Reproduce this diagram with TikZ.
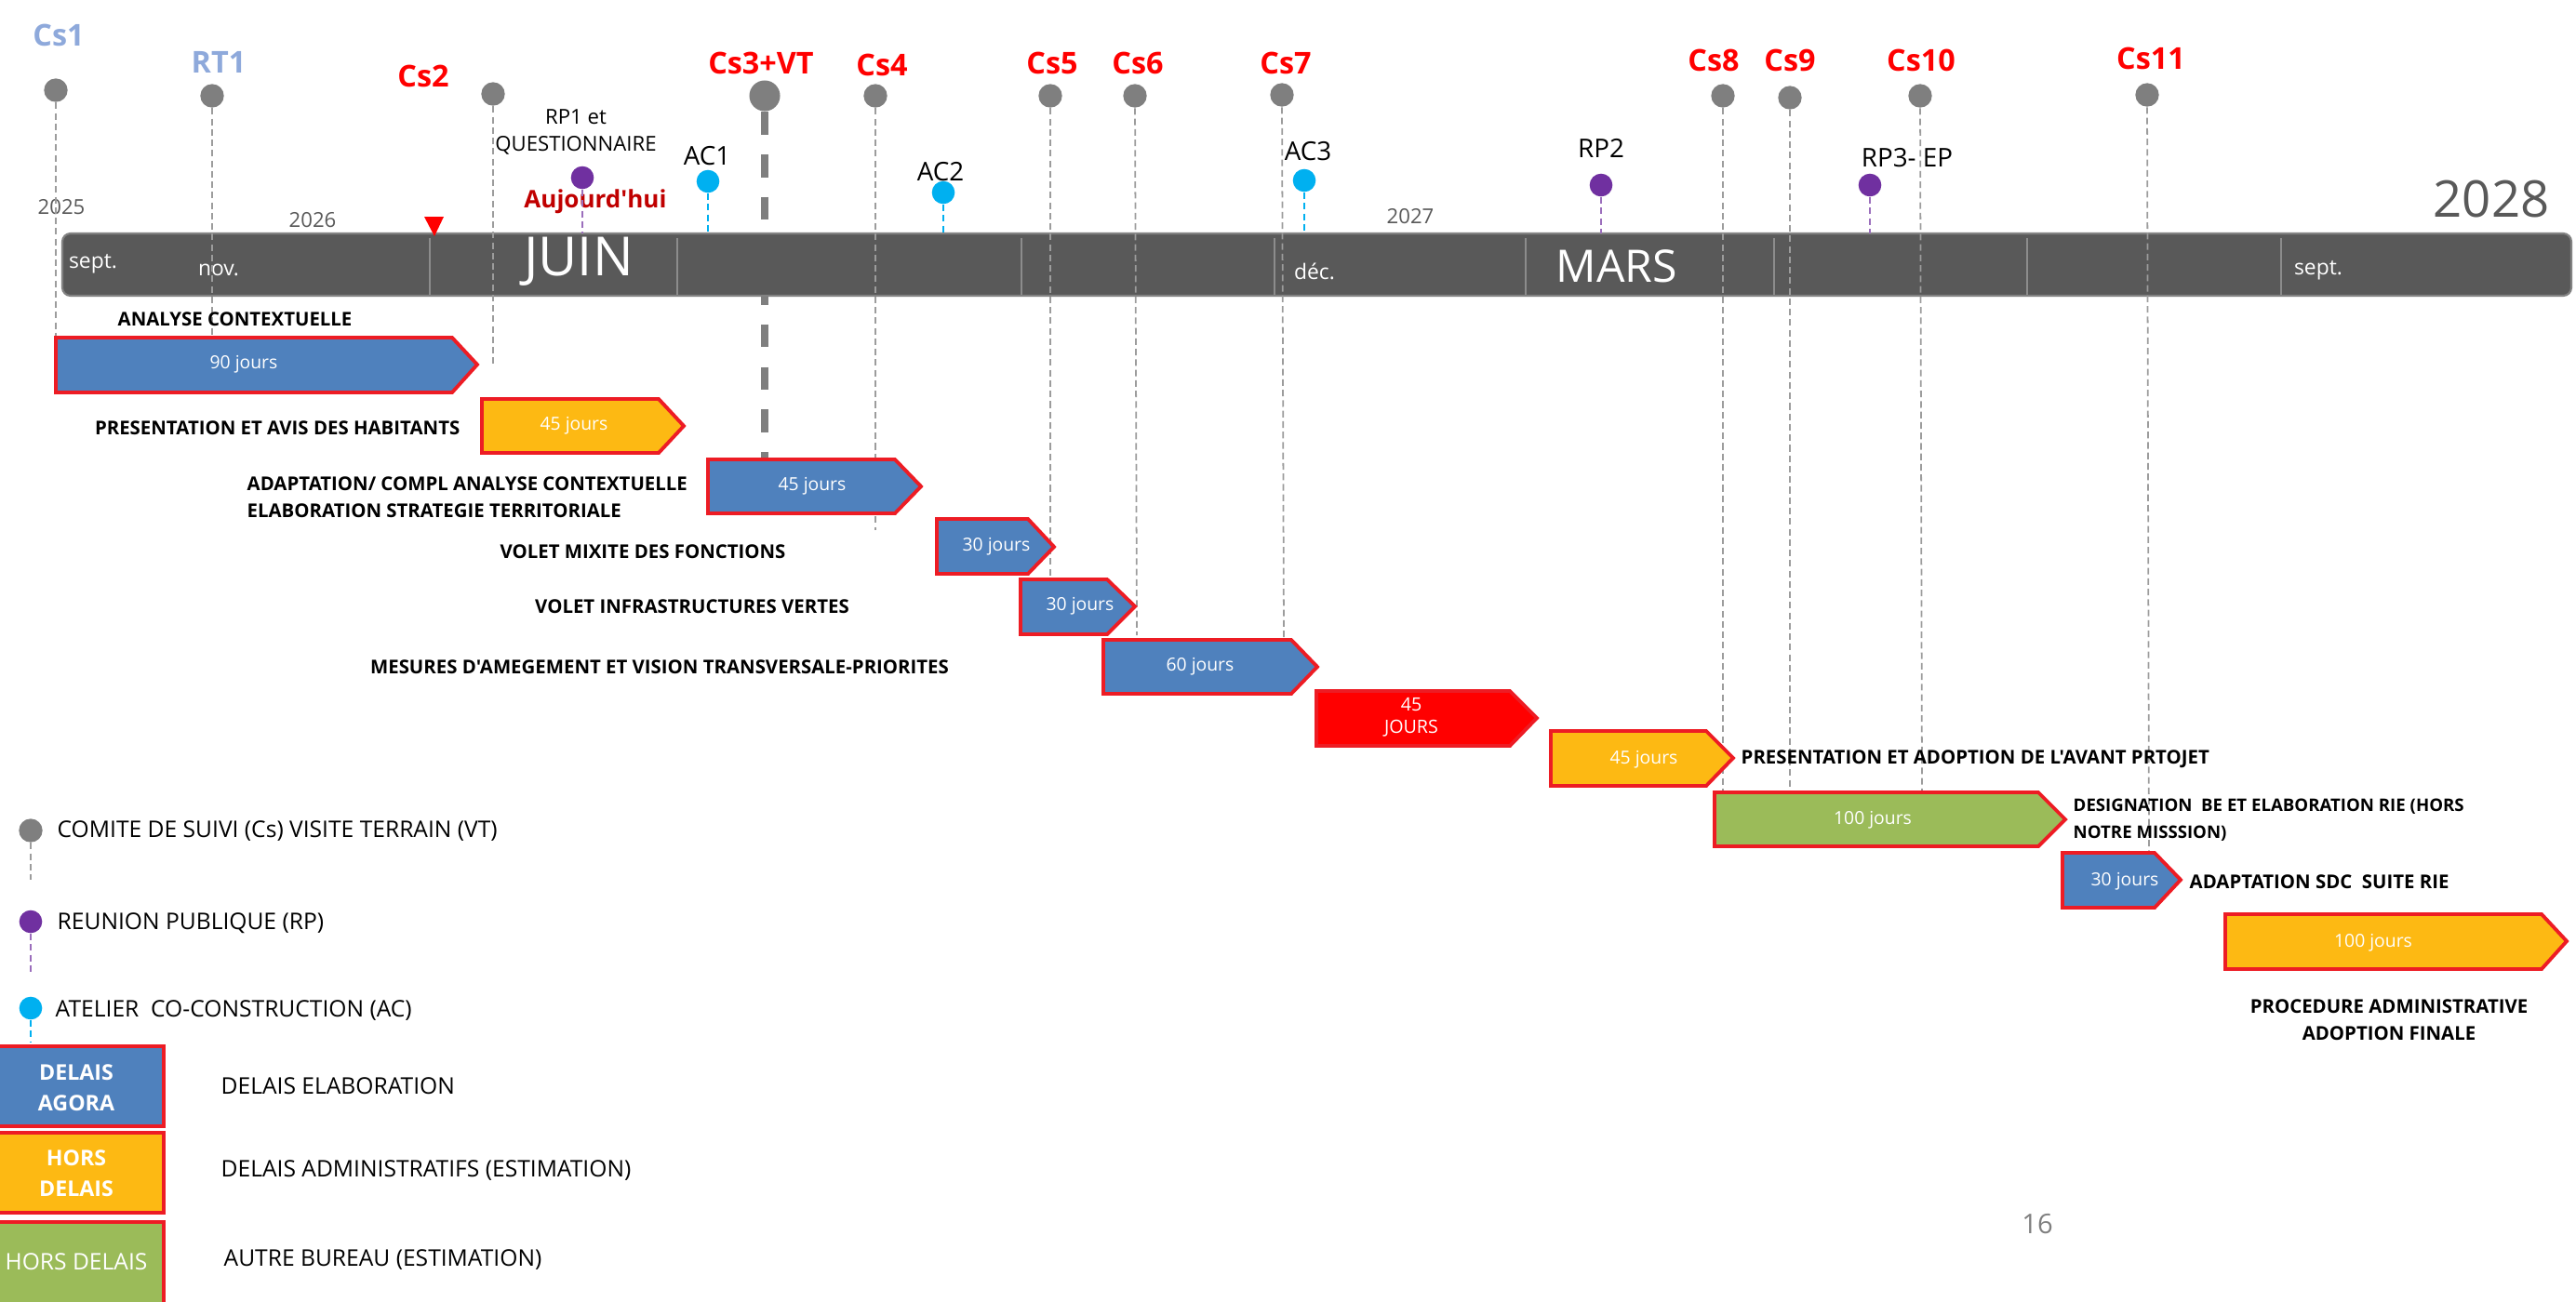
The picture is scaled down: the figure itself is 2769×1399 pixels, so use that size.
\documentclass[tikz,border=0pt]{standalone}
\usepackage{fontspec}
\setmainfont{Open Sans}[Ligatures=TeXOff]
\usepackage{tikz}
\definecolor{tlBar}{HTML}{595959}
\definecolor{tlGray}{HTML}{7F7F7F}
\definecolor{tlLine}{HTML}{9C9C9C}
\definecolor{tlSep}{HTML}{8C8C8C}
\definecolor{tlBlue}{HTML}{4F81BD}
\definecolor{tlOrange}{HTML}{FDB913}
\definecolor{tlGreen}{HTML}{9BBB59}
\definecolor{tlRed}{HTML}{FF0000}
\definecolor{tlBorder}{HTML}{ED1C24}
\definecolor{tlPurple}{HTML}{7030A0}
\definecolor{tlCyan}{HTML}{00B0F0}
\definecolor{tlLight}{HTML}{8EA9DB}
\definecolor{tlDark}{HTML}{C00000}

\begin{document}
\begin{tikzpicture}[x=0.01cm,y=-0.01cm,
		csdot/.style={circle,fill=tlGray,inner sep=0,minimum size=7.2pt},
		rpdot/.style={circle,fill=tlPurple,inner sep=0,minimum size=7pt},
		acdot/.style={circle,fill=tlCyan,inner sep=0,minimum size=7pt},
		csline/.style={tlLine,line width=0.5pt,dash pattern=on 2pt off 1.2pt},
		rpline/.style={tlPurple!70,line width=0.5pt,dash pattern=on 2pt off 1.2pt},
		acline/.style={tlCyan,line width=0.5pt,dash pattern=on 2pt off 1.2pt},
		vtline/.style={tlGray,line width=2pt,dash pattern=on 7pt off 6pt},
		cslabel/.style={inner sep=0,text=tlRed,font=\fontsize{9.2}{11}\selectfont\bfseries},
		rtlabel/.style={cslabel,text=tlLight},
		evlabel/.style={inner sep=0,align=center,font=\fontsize{7.9}{9.5}\selectfont},
		yearlabel/.style={inner sep=0,text=tlBar,font=\fontsize{6.3}{8}\selectfont},
		monthlabel/.style={inner sep=0,text=white,font=\fontsize{6.5}{8}\selectfont},
		blocktask/.style={draw=tlBorder,line width=1.1pt,line join=miter},
		tasktxt/.style={inner sep=0,align=center,text=white,font=\fontsize{5.5}{6.8}\selectfont},
		tasklabel/.style={inner sep=0,align=left,font=\fontsize{5.8}{8.3}\selectfont\bfseries},
		legtxt/.style={inner sep=0,anchor=west,font=\fontsize{7}{8.5}\selectfont},
		legbox/.style={draw=tlBorder,line width=1.1pt},
		legboxtxt/.style={inner sep=0,align=center,text=white,font=\fontsize{6.6}{9.4}\selectfont\bfseries}]
		%\draw[help lines,step=100] (0,0) grid (2769,1399);
		\useasboundingbox (0,0) rectangle (2769,1399);
		% visite terrain, under the bar
		\node[csdot,minimum size=9.4pt] (cs3) at (822,103) {};
		\coordinate (cs3e) at (822,493);
		\draw[vtline] (cs3) -- (cs3e);
		% timeline bar
		\filldraw[fill=tlBar,draw=tlBar!75!white,line width=0.6pt,rounded corners=2.5pt] (67,251) rectangle (2764,318);
		\foreach \x in {462,728,1098,1370,1640,1907,2179,2452}
			\draw[tlSep,line width=0.5pt] (\x,256) -- (\x,317);
		\node[monthlabel] (m1) at (100,284) {sept.};
		\node[monthlabel] (m2) at (235,290) {nov.};
		\node[inner sep=0,text=white,font=\fontsize{16.5}{20}\selectfont] (m3) at (622,281) {JUIN};
		\node[monthlabel] (m4) at (1413,292) {déc.};
		\node[inner sep=0,text=white,font=\fontsize{13.7}{16}\selectfont] (m5) at (1738,286) {MARS};
		\node[monthlabel] (m6) at (2492,291) {sept.};
		% years
		\node[yearlabel] (y1) at (66,223) {2025};
		\node[yearlabel] (y2) at (336,237) {2026};
		\node[yearlabel] (y3) at (1516,233) {2027};
		\node[inner sep=0,text=tlBar,font=\fontsize{15.5}{18}\selectfont] (y4) at (2678,214) {2028};
		% today
		\fill[tlRed] (456,233) -- (477,233) -- (467,254) -- cycle;
		\node[inner sep=0,text=tlDark,font=\fontsize{7.4}{9}\selectfont\bfseries] (today) at (640,217) {Aujourd'hui};
		% comites de suivi
		\node[csdot] (cs1) at (60,97) {};
		\node[csdot] (rt1) at (228,103) {};
		\node[csdot] (cs2) at (530,101) {};
		\node[csdot] (cs4) at (941,103) {};
		\node[csdot] (cs5) at (1129,103) {};
		\node[csdot] (cs6) at (1220,103) {};
		\node[csdot] (cs7) at (1378,102) {};
		\node[csdot] (cs8) at (1852,103) {};
		\node[csdot] (cs9) at (1924,105) {};
		\node[csdot] (cs10) at (2064,103) {};
		\node[csdot] (cs11) at (2308,102) {};
		\coordinate (cs1e) at (60,390);
		\coordinate (rt1e) at (228,362);
		\coordinate (cs2e) at (530,395);
		\coordinate (cs4e) at (941,570);
		\coordinate (cs5e) at (1129,620);
		\coordinate (cs6e) at (1222,683);
		\coordinate (cs7e) at (1380,687);
		\coordinate (cs8e) at (1852,850);
		\coordinate (cs9e) at (1924,850);
		\coordinate (cs10e) at (2066,850);
		\coordinate (cs11e) at (2310,917);
		\draw[csline] (cs1) -- (cs1e);
		\draw[csline] (rt1) -- (rt1e);
		\draw[csline] (cs2) -- (cs2e);
		\draw[csline] (cs4) -- (cs4e);
		\draw[csline] (cs5) -- (cs5e);
		\draw[csline] (cs6) -- (cs6e);
		\draw[csline] (cs7) -- (cs7e);
		\draw[csline] (cs8) -- (cs8e);
		\draw[csline] (cs9) -- (cs9e);
		\draw[csline] (cs10) -- (cs10e);
		\draw[csline] (cs11) -- (cs11e);
		\node[rtlabel] (cs1l) at (63,38) {Cs1};
		\node[rtlabel] (rt1l) at (235,67) {RT1};
		\node[cslabel] (cs2l) at (455,82) {Cs2};
		\node[cslabel] (cs3l) at (818,68) {Cs3+VT};
		\node[cslabel] (cs4l) at (948,70) {Cs4};
		\node[cslabel] (cs5l) at (1131,68) {Cs5};
		\node[cslabel] (cs6l) at (1223,68) {Cs6};
		\node[cslabel] (cs7l) at (1382,68) {Cs7};
		\node[cslabel] (cs8l) at (1842,65) {Cs8};
		\node[cslabel] (cs9l) at (1924,65) {Cs9};
		\node[cslabel] (cs10l) at (2065,65) {Cs10};
		\node[cslabel] (cs11l) at (2312,63) {Cs11};
		% reunions publiques et ateliers
		\node[rpdot] (rp1) at (626,191) {};
		\node[acdot] (ac1) at (761,195) {};
		\node[acdot] (ac2) at (1014,207) {};
		\node[acdot] (ac3) at (1402,194) {};
		\node[rpdot] (rp2) at (1721,199) {};
		\node[rpdot] (rp3) at (2010,199) {};
		\coordinate (rp1e) at (626,251);
		\coordinate (ac1e) at (761,251);
		\coordinate (ac2e) at (1014,251);
		\coordinate (ac3e) at (1402,251);
		\coordinate (rp2e) at (1721,251);
		\coordinate (rp3e) at (2010,251);
		\draw[rpline] (rp1) -- (rp1e);
		\draw[acline] (ac1) -- (ac1e);
		\draw[acline] (ac2) -- (ac2e);
		\draw[acline] (ac3) -- (ac3e);
		\draw[rpline] (rp2) -- (rp2e);
		\draw[rpline] (rp3) -- (rp3e);
		\node[evlabel,font=\fontsize{6.3}{8.5}\selectfont] (rp1l) at (619,142) {RP1 et\\QUESTIONNAIRE};
		\node[evlabel] (ac1l) at (760,168) {AC1};
		\node[evlabel] (ac2l) at (1011,185) {AC2};
		\node[evlabel] (ac3l) at (1406,163) {AC3};
		\node[evlabel] (rp2l) at (1721,159) {RP2};
		\node[evlabel] (rp3l) at (2050,170) {RP3- EP};
		% tasks
		\draw[blocktask,fill=tlBlue] (60,363) -- (486,363) -- (513,392) -- (486,422) -- (60,422) -- cycle;
		\draw[blocktask,fill=tlOrange] (518,429) -- (708,429) -- (735,458) -- (708,487) -- (518,487) -- cycle;
		\draw[blocktask,fill=tlBlue] (761,494) -- (962,494) -- (990,523) -- (962,552) -- (761,552) -- cycle;
		\draw[blocktask,fill=tlBlue] (1007,558) -- (1105,558) -- (1133,588) -- (1105,617) -- (1007,617) -- cycle;
		\draw[blocktask,fill=tlBlue] (1097,623) -- (1190,623) -- (1220,652) -- (1190,682) -- (1097,682) -- cycle;
		\draw[blocktask,fill=tlBlue] (1186,688) -- (1388,688) -- (1416,717) -- (1388,746) -- (1186,746) -- cycle;
		\draw[blocktask,fill=tlRed] (1415,743) -- (1623,743) -- (1652,772) -- (1623,802) -- (1415,802) -- cycle;
		\draw[blocktask,fill=tlOrange] (1667,786) -- (1834,786) -- (1863,815) -- (1834,845) -- (1667,845) -- cycle;
		\draw[blocktask,fill=tlGreen] (1843,852) -- (2191,852) -- (2220,881) -- (2191,910) -- (1843,910) -- cycle;
		\draw[blocktask,fill=tlBlue] (2217,917) -- (2316,917) -- (2344,946) -- (2316,976) -- (2217,976) -- cycle;
		\draw[blocktask,fill=tlOrange] (2392,983) -- (2732,983) -- (2759,1012) -- (2732,1042) -- (2392,1042) -- cycle;
		\node[tasktxt] (t1) at (262,392) {90 jours};
		\node[tasktxt] (t2) at (617,458) {45 jours};
		\node[tasktxt] (t3) at (873,523) {45 jours};
		\node[tasktxt] (t4) at (1071,588) {30 jours};
		\node[tasktxt] (t5) at (1161,652) {30 jours};
		\node[tasktxt] (t6) at (1290,717) {60 jours};
		\node[tasktxt,font=\fontsize{5.6}{6.9}\selectfont] (t7) at (1517,771) {45\\JOURS};
		\node[tasktxt] (t8) at (1767,817) {45 jours};
		\node[tasktxt] (t9) at (2013,882) {100 jours};
		\node[tasktxt] (t10) at (2284,948) {30 jours};
		\node[tasktxt] (t11) at (2551,1014) {100 jours};
		% task names
		\node[tasklabel,anchor=west] (n1) at (126,343) {ANALYSE CONTEXTUELLE};
		\node[tasklabel,anchor=east] (n2) at (495,460) {PRESENTATION ET AVIS DES HABITANTS};
		\node[tasklabel,anchor=west] (n3) at (265,535) {ADAPTATION/ COMPL ANALYSE CONTEXTUELLE\\ELABORATION STRATEGIE TERRITORIALE};
		\node[tasklabel] (n4) at (691,593) {VOLET MIXITE DES FONCTIONS};
		\node[tasklabel] (n5) at (744,652) {VOLET INFRASTRUCTURES VERTES};
		\node[tasklabel] (n6) at (709,717) {MESURES D'AMEGEMENT ET VISION TRANSVERSALE-PRIORITES};
		\node[tasklabel,anchor=west] (n8) at (1871,816) {PRESENTATION ET ADOPTION DE L'AVANT PRTOJET};
		\node[tasklabel,anchor=west,font=\fontsize{5.3}{8.3}\selectfont\bfseries] (n9) at (2228,882) {DESIGNATION~ BE ET ELABORATION RIE (HORS\\NOTRE MISSSION)};
		\node[tasklabel,anchor=west] (n10) at (2353,948) {ADAPTATION SDC~ SUITE RIE};
		\node[tasklabel,align=center] (n11) at (2568,1097) {PROCEDURE ADMINISTRATIVE\\ADOPTION FINALE};
		% legend
		\node[csdot] (lg1) at (33,893) {};
		\node[rpdot] (lg2) at (33,991) {};
		\node[acdot] (lg3) at (33,1084) {};
		\coordinate (lg1e) at (33,946);
		\coordinate (lg2e) at (33,1046);
		\coordinate (lg3e) at (33,1121);
		\draw[csline] (lg1) -- (lg1e);
		\draw[rpline] (lg2) -- (lg2e);
		\draw[acline] (lg3) -- (lg3e);
		\node[legtxt] (lg1l) at (61,894) {COMITE DE SUIVI (Cs) VISITE TERRAIN (VT)};
		\node[legtxt] (lg2l) at (61,993) {REUNION PUBLIQUE (RP)};
		\node[legtxt] (lg3l) at (59,1086) {ATELIER~ CO-CONSTRUCTION (AC)};
		\draw[legbox,fill=tlBlue] (-5,1125) rectangle (176,1211);
		\draw[legbox,fill=tlOrange] (-5,1218) rectangle (176,1304);
		\draw[legbox,fill=tlGreen] (-5,1314) rectangle (176,1405);
		\node[legboxtxt] (b1) at (82,1170) {DELAIS\\AGORA};
		\node[legboxtxt] (b2) at (82,1262) {HORS\\DELAIS};
		\node[legboxtxt,font=\fontsize{7}{9}\selectfont] (b3) at (82,1357) {HORS DELAIS};
		\node[legtxt] (b1l) at (237,1168) {DELAIS ELABORATION};
		\node[legtxt] (b2l) at (237,1258) {DELAIS ADMINISTRATIFS (ESTIMATION)};
		\node[legtxt] (b3l) at (240,1354) {AUTRE BUREAU (ESTIMATION)};
		% page
		\node[inner sep=0,text=tlGray,font=\fontsize{8.3}{10}\selectfont] (pg) at (2190,1316) {16};
\end{tikzpicture}
\end{document}
